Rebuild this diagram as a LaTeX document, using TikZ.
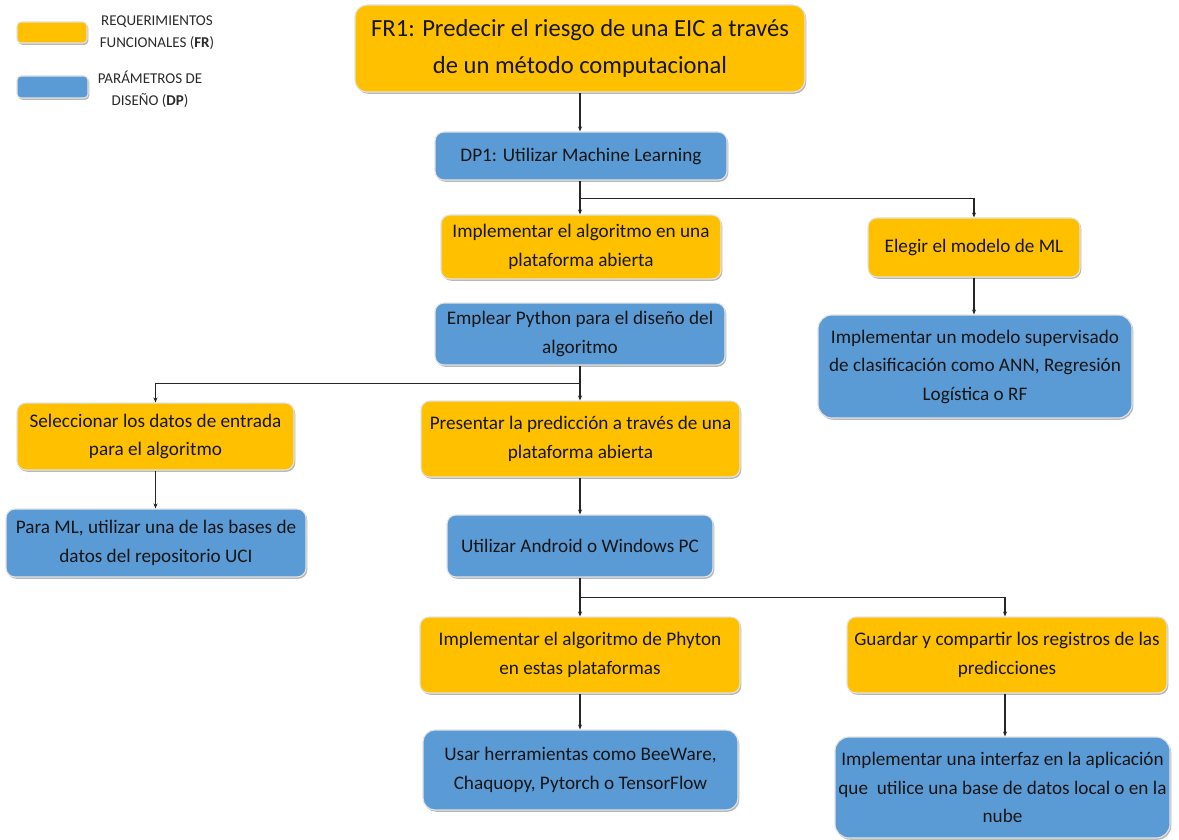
\documentclass[tikz,border=0pt]{standalone}
\usepackage{fontspec}
\setmainfont{Carlito}
\usetikzlibrary{shadows,arrows.meta,calc}

\definecolor{frorange}{HTML}{FFC000}
\definecolor{dpblue}{HTML}{5B9BD5}
\definecolor{inkdark}{HTML}{161616}
\definecolor{legendtext}{HTML}{2A2A2A}

\tikzset{
  box/.style={rounded corners=9pt, draw=gray!22, line width=1.1pt,
    align=center, inner sep=0pt, text=inkdark,
    font=\fontsize{19.2}{28.5}\selectfont,
    drop shadow={shadow xshift=1.3pt, shadow yshift=-1.8pt, opacity=0.28, fill=black}},
  frbox/.style={box, fill=frorange},
  dpbox/.style={box, fill=dpblue},
  conn/.style={draw=black!85, line width=1.3pt,
    -{Stealth[length=5pt, width=4pt]}},
  legendlabel/.style={align=center, text=legendtext, inner sep=0pt,
    font=\fontsize{15}{22}\selectfont},
}

\begin{document}
\begin{tikzpicture}[x=1pt, y=-1pt]
  \useasboundingbox (0,0) rectangle (1179,840);

  % legend
  \node[frbox, minimum width=70pt, minimum height=21pt, rounded corners=4pt] (legfr) at (52,32.5) {};
  \node[dpbox, minimum width=71pt, minimum height=22pt, rounded corners=4pt] (legdp) at (52.5,87) {};
  \node[legendlabel] (legfrtext) at (157,33) {REQUERIMIENTOS\\FUNCIONALES (\textbf{FR})};
  \node[legendlabel] (legdptext) at (150,89) {PARÁMETROS DE\\DISEÑO (\textbf{DP})};

  % top level
  \node[frbox, minimum width=450pt, minimum height=87pt, rounded corners=12pt,
        font=\fontsize{24.6}{37}\selectfont] (fr1) at (580,48.5)
        {FR1: Predecir el riesgo de una EIC a través\\de un método computacional};
  \node[dpbox, minimum width=292pt, minimum height=48pt] (dp1) at (581,156)
        {DP1: Utilizar Machine Learning};

  % second level
  \node[frbox, minimum width=280pt, minimum height=64pt] (impl) at (581,247)
        {Implementar el algoritmo en una\\plataforma abierta};
  \node[frbox, minimum width=212pt, minimum height=59pt] (elegir) at (974,247.5)
        {Elegir el modelo de ML};
  \node[dpbox, minimum width=290pt, minimum height=62pt] (python) at (580,334)
        {Emplear Python para el diseño del\\algoritmo};
  \node[dpbox, minimum width=314pt, minimum height=103pt, rounded corners=14pt] (modelo) at (975,366.5)
        {Implementar un modelo supervisado\\de clasificación como ANN, Regresión\\Logística o RF};

  % third level
  \node[frbox, minimum width=277pt, minimum height=67pt] (datos) at (155.5,436.5)
        {Seleccionar los datos de entrada\\para el algoritmo};
  \node[frbox, minimum width=319pt, minimum height=76pt] (presentar) at (580.5,439)
        {Presentar la predicción a través de una\\plataforma abierta};
  \node[dpbox, minimum width=300pt, minimum height=68pt] (uci) at (156,543)
        {Para ML, utilizar una de las bases de\\datos del repositorio UCI};
  \node[dpbox, minimum width=266pt, minimum height=62pt] (android) at (580,546)
        {Utilizar Android o Windows PC};

  % fourth level
  \node[frbox, minimum width=320pt, minimum height=76pt] (phyton) at (580,655)
        {Implementar el algoritmo de Phyton\\en estas plataformas};
  \node[frbox, minimum width=320pt, minimum height=76pt] (guardar) at (1007,655)
        {Guardar y compartir los registros de las\\predicciones};
  \node[dpbox, minimum width=315pt, minimum height=80pt, rounded corners=12pt] (herram) at (580.5,770)
        {Usar herramientas como BeeWare,\\Chaquopy, Pytorch o TensorFlow};
  \node[dpbox, minimum width=335pt, minimum height=101pt, rounded corners=14pt] (interfaz) at (1002.5,787.5)
        {Implementar una interfaz en la aplicación\\que\ \ utilice una base de datos local o en la\\nube};

  % connectors
  \draw[conn] (fr1.south) -- (fr1.south |- dp1.north);
  \draw[conn] (dp1.south -| fr1.south) -- (fr1.south |- impl.north);
  \draw[conn] ($(dp1.south -| fr1.south)+(0,18)$) -| (elegir.north);
  \draw[conn] (elegir.south) -- (elegir.south |- modelo.north);

  \draw[conn] (python.south) -- (python.south |- presentar.north);
  \draw[conn] ($(python.south)+(0,18)$) -| (datos.north);
  \draw[conn] (datos.south) -- (datos.south |- uci.north);
  \draw[conn] (presentar.south -| android.south) -- (android.north);

  \draw[conn] (android.south) -- (android.south |- phyton.north);
  \draw[conn] ($(android.south)+(0,20)$) -| ($(guardar.north)+(-2,0)$);
  \draw[conn] (phyton.south) -- (phyton.south |- herram.north);
  \draw[conn] ($(guardar.south)+(-2,0)$) -- ($(guardar.south |- interfaz.north)+(-2,0)$);
\end{tikzpicture}
\end{document}
